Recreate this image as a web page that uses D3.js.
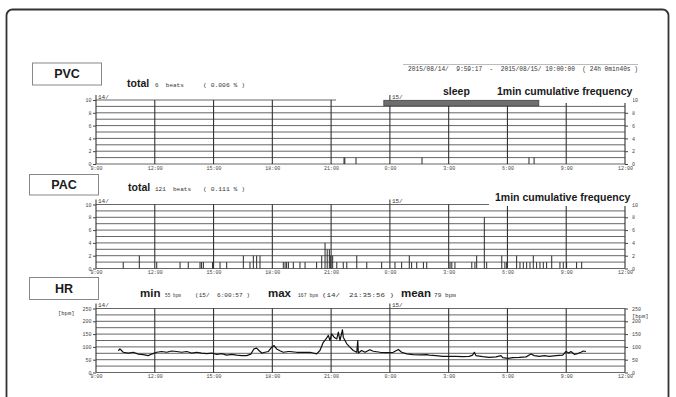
<!DOCTYPE html>
<html>
<head>
<meta charset="utf-8">
<script src="https://cdn.jsdelivr.net/npm/d3@7"></script>
<style>
  html, body { margin: 0; padding: 0; background: #fff; }
  svg { display: block; }
  .bold { font-family: Arial, "Liberation Sans", sans-serif; font-weight: bold; fill: #1a1a1a; }
  .mono { font-family: "Liberation Mono", "DejaVu Sans Mono", monospace; fill: #333; }
  .tick text { font-family: "Liberation Mono", "DejaVu Sans Mono", monospace; font-size: 5px; fill: #444; }
</style>
</head>
<body>
<div id="chart"></div>
<script>
// hours counted from 14/ 0:00, so 24 = 15/ 0:00
const hourTicks = [9, 12, 15, 18, 21, 24, 27, 30, 33, 36];
const dayMarks = [{ hour: 9, label: "14/" }, { hour: 24, label: "15/" }];
const sleepPeriod = [23.69, 31.6];
const countGrid = [0, 1, 2, 3, 4, 5, 6, 7, 8, 9, 10];
const countTicks = [0, 2, 4, 6, 8, 10];
const bpmGrid = [0, 25, 50, 75, 100, 125, 150, 175, 200, 225, 250];
const bpmTicks = [0, 50, 100, 150, 200, 250];

const panelTitles = ["PVC", "PAC", "HR"];
const pvcStats = ["6  beats", "( 0.006 % )"];
const pacStats = ["121  beats", "( 0.111 % )"];
const hrStats = [
  ["min", "55 bpm", "(15/  6:00:57 )"],
  ["max", "167 bpm", "(14/  21:35:56 )"],
  ["mean", "79 bpm", ""]
];
const recordText = "2015/08/14/  9:59:17  -  2015/08/15/ 10:00:00  ( 24h 0min40s )";
const freqLabel = "1min cumulative frequency";

// [hour, beats per minute bin]
const pvcEvents = [[21.66, 1], [21.70, 1], [22.27, 1], [25.64, 1], [31.10, 1], [31.36, 1]];
const pacEvents = [
  [10.39, 1], [11.21, 2], [12.10, 1], [13.29, 1], [13.71, 1], [14.31, 1], [14.39, 1], [14.48, 1],
  [14.95, 1], [15.33, 1], [15.67, 1], [16.52, 2], [16.86, 1], [17.03, 2], [17.20, 2], [17.37, 2],
  [18.56, 1], [18.65, 1], [18.73, 1], [18.82, 1], [19.07, 1], [19.41, 1], [19.67, 1], [20.26, 1],
  [20.52, 2], [20.69, 4], [20.80, 3], [20.91, 3], [20.98, 2], [21.08, 2], [21.29, 1], [21.62, 1],
  [21.80, 1], [22.31, 2], [22.82, 1], [23.58, 1], [24.26, 1], [24.60, 1], [24.99, 2], [25.11, 1],
  [25.37, 1], [25.71, 1], [25.88, 1], [27.07, 1], [27.16, 1], [27.32, 1], [28.18, 1], [28.34, 1],
  [28.43, 2], [28.82, 8], [28.94, 1], [29.71, 2], [29.87, 1], [29.96, 1], [30.47, 2], [30.64, 1],
  [30.81, 1], [30.98, 1], [31.15, 1], [31.32, 2], [31.49, 1], [31.66, 1], [31.83, 1], [32.00, 1],
  [32.26, 2], [32.68, 1], [32.85, 1], [33.02, 1], [33.53, 1], [33.79, 1]
];

// [hour, bpm]
const hrSeries = [
  [10.14, 85], [10.22, 92], [10.39, 79], [10.65, 76], [10.90, 79], [11.16, 72], [11.41, 70], [11.67, 66],
  [11.84, 72], [12.10, 79], [12.35, 82], [12.61, 79], [12.86, 84], [13.12, 82], [13.37, 79], [13.63, 82],
  [13.88, 76], [14.14, 79], [14.39, 76], [14.65, 74], [14.91, 76], [15.16, 71], [15.42, 74], [15.67, 68],
  [15.93, 71], [16.18, 68], [16.44, 66], [16.69, 66], [16.90, 72], [17.06, 92], [17.20, 95], [17.33, 85],
  [17.46, 76], [17.63, 79], [17.79, 82], [17.97, 99], [18.09, 105], [18.22, 92], [18.39, 85], [18.56, 79],
  [18.82, 82], [18.90, 82], [19.24, 79], [19.58, 79], [19.92, 79], [20.26, 73], [20.43, 86], [20.60, 118],
  [20.74, 131], [20.86, 145], [20.94, 125], [21.03, 151], [21.15, 138], [21.29, 131], [21.37, 158], [21.45, 125],
  [21.58, 167], [21.62, 138], [21.80, 112], [21.96, 99], [22.13, 86], [22.31, 79], [22.36, 125], [22.39, 76],
  [22.56, 86], [22.73, 79], [22.98, 89], [23.15, 83], [23.50, 79], [23.84, 78], [24.17, 79], [24.43, 90],
  [24.60, 79], [24.86, 73], [25.19, 70], [25.54, 69], [25.88, 70], [26.01, 68], [26.35, 66], [26.70, 63],
  [27.03, 63], [27.37, 63], [27.72, 62], [28.05, 63], [28.22, 68], [28.31, 79], [28.39, 66], [28.74, 62],
  [29.07, 59], [29.42, 61], [29.67, 66], [29.76, 58], [30.02, 55], [30.27, 58], [30.60, 59], [30.95, 61],
  [31.20, 72], [31.37, 66], [31.63, 63], [31.88, 66], [32.14, 63], [32.48, 66], [32.82, 68], [32.99, 82],
  [33.13, 76], [33.24, 82], [33.41, 71], [33.59, 74], [33.75, 79], [33.87, 84], [34.01, 82]
];

const width = 676, height = 397;
const plotLeft = 96, plotRight = 625, plotH = 64;
const panelTops = [100, 204.5, 308.5];

const svg = d3.select("#chart").append("svg")
  .attr("width", width)
  .attr("height", height);

// outer frame
svg.append("rect")
  .attr("x", 6.5).attr("y", 9.5)
  .attr("width", 662).attr("height", 420)
  .attr("rx", 6)
  .attr("fill", "none")
  .attr("stroke", "#333")
  .attr("stroke-width", 1.8);

const x = d3.scaleLinear().domain([9, 36]).range([plotLeft, plotRight]);

function drawPanel(top, yDomain, grid, ticks) {
  const y = d3.scaleLinear().domain(yDomain).range([top + plotH, top]);
  const g = svg.append("g");

  g.append("g").selectAll("line")
    .data(grid)
    .enter().append("line")
      .attr("x1", plotLeft).attr("x2", plotRight)
      .attr("y1", d => y(d)).attr("y2", d => y(d))
      .attr("stroke", "#555")
      .attr("stroke-width", 0.9);

  g.append("g").selectAll("line")
    .data(hourTicks)
    .enter().append("line")
      .attr("x1", d => x(d)).attr("x2", d => x(d))
      .attr("y1", top).attr("y2", top + plotH)
      .attr("stroke", "#333")
      .attr("stroke-width", 1.1);

  // day boundary marks
  dayMarks.forEach(m => {
    g.append("line")
      .attr("x1", x(m.hour)).attr("x2", x(m.hour))
      .attr("y1", top - 5).attr("y2", top)
      .attr("stroke", "#333");
    g.append("text")
      .attr("class", "mono")
      .attr("x", x(m.hour) + 2).attr("y", top - 1.5)
      .attr("font-size", 6)
      .text(m.label);
  });

  const xAxis = d3.axisBottom(x)
    .tickValues(hourTicks)
    .tickSize(0)
    .tickPadding(2)
    .tickFormat(h => `${h % 24}:00`);
  g.append("g")
    .attr("transform", `translate(0,${top + plotH})`)
    .call(xAxis)
    .call(a => a.select(".domain").remove());

  g.append("g")
    .attr("transform", `translate(${plotLeft},0)`)
    .call(d3.axisLeft(y).tickValues(ticks).tickSize(3).tickPadding(1.5))
    .call(a => a.select(".domain").remove())
    .call(a => a.selectAll(".tick line").attr("stroke", "#444"));

  g.append("g")
    .attr("transform", `translate(${plotRight},0)`)
    .call(d3.axisRight(y).tickValues(ticks).tickSize(3).tickPadding(4))
    .call(a => a.select(".domain").remove())
    .call(a => a.selectAll(".tick line").attr("stroke", "#444"));

  return { g, y };
}

function drawEvents(panel, events) {
  panel.g.append("g").selectAll("line")
    .data(events)
    .enter().append("line")
      .attr("x1", d => x(d[0])).attr("x2", d => x(d[0]))
      .attr("y1", panel.y(0)).attr("y2", d => panel.y(d[1]))
      .attr("stroke", "#2a2a2a")
      .attr("stroke-width", 1);
}

function titleBox(bx, by, bh, label) {
  svg.append("rect")
    .attr("x", bx + 0.5).attr("y", by + 0.5)
    .attr("width", 69).attr("height", bh)
    .attr("fill", "#fff")
    .attr("stroke", "#888");
  svg.append("text")
    .attr("class", "bold")
    .attr("x", bx + 35).attr("y", by + bh / 2 + 4.5)
    .attr("text-anchor", "middle")
    .attr("font-size", 12.5)
    .text(label);
}

function monoText(tx, ty, str, len) {
  const t = svg.append("text")
    .attr("class", "mono")
    .attr("x", tx).attr("y", ty)
    .attr("font-size", 6)
    .attr("xml:space", "preserve")
    .style("white-space", "pre")
    .text(str);
  if (len) t.attr("textLength", len).attr("lengthAdjust", "spacingAndGlyphs");
  return t;
}

function boldText(tx, ty, str, size) {
  svg.append("text")
    .attr("class", "bold")
    .attr("x", tx).attr("y", ty)
    .attr("font-size", size)
    .text(str);
}

// ---- PVC ----
const pvc = drawPanel(panelTops[0], [0, 10], countGrid, countTicks);
svg.append("rect")
  .attr("x", 336).attr("y", 84).attr("width", 297).attr("height", 19)
  .attr("fill", "#fff");
dayMarks.filter(m => m.hour === 24).forEach(m => {
  svg.append("line")
    .attr("x1", x(m.hour)).attr("x2", x(m.hour))
    .attr("y1", panelTops[0] - 5).attr("y2", panelTops[0] + 3)
    .attr("stroke", "#333");
  monoText(x(m.hour) + 2, panelTops[0] - 1.5, m.label);
});
svg.append("rect")
  .attr("x", x(sleepPeriod[0])).attr("y", pvc.y(9.95))
  .attr("width", x(sleepPeriod[1]) - x(sleepPeriod[0]))
  .attr("height", pvc.y(9.1) - pvc.y(9.95))
  .attr("fill", "#6e6e6e")
  .attr("stroke", "#444")
  .attr("stroke-width", 0.8);
drawEvents(pvc, pvcEvents);

titleBox(32, 62.5, 22, panelTitles[0]);
boldText(127, 86.5, "total", 10.5);
monoText(155, 86.5, pvcStats[0]);
monoText(203, 86.5, pvcStats[1], 42);
boldText(443, 95, "sleep", 10.5);
boldText(497, 95, freqLabel, 10.5);

svg.append("line")
  .attr("x1", 403).attr("x2", 638)
  .attr("y1", 64.5).attr("y2", 64.5)
  .attr("stroke", "#aaa")
  .attr("stroke-width", 0.8);
monoText(408, 70.5, recordText, 230).attr("font-size", 6.3);

// ---- PAC ----
const pac = drawPanel(panelTops[1], [0, 10], countGrid, countTicks);
svg.append("rect")
  .attr("x", 489).attr("y", 189).attr("width", 142).attr("height", 17)
  .attr("fill", "#fff");
drawEvents(pac, pacEvents);

titleBox(29, 174, 20.5, panelTitles[1]);
boldText(128, 190.5, "total", 10.5);
monoText(155, 190.5, pacStats[0]);
monoText(203, 190.5, pacStats[1], 42);
boldText(495, 201, freqLabel, 10.5);

// ---- HR ----
const hr = drawPanel(panelTops[2], [0, 250], bpmGrid, bpmTicks);
const line = d3.line()
  .x(d => x(d[0]))
  .y(d => hr.y(d[1]));
hr.g.append("path")
  .datum(hrSeries)
  .attr("d", line)
  .attr("fill", "none")
  .attr("stroke", "#111")
  .attr("stroke-width", 1.2)
  .attr("stroke-linejoin", "round");

monoText(58, 315, "[bpm]").attr("font-size", 5.5);
monoText(632, 317.5, "[bpm]").attr("font-size", 5.5);

titleBox(29, 277, 22, panelTitles[2]);
const hrLabelX = [[140, 165, 195], [268, 298, 322], [401, 434, 0]];
const hrValueLen = [16, 20, 22];
const hrLen = [55, 72, 0];
hrStats.forEach((s, i) => {
  boldText(hrLabelX[i][0], 297, s[0], 11.5);
  monoText(hrLabelX[i][1], 297, s[1], hrValueLen[i]);
  if (s[2]) monoText(hrLabelX[i][2], 297, s[2], hrLen[i]);
});
</script>
</body>
</html>
